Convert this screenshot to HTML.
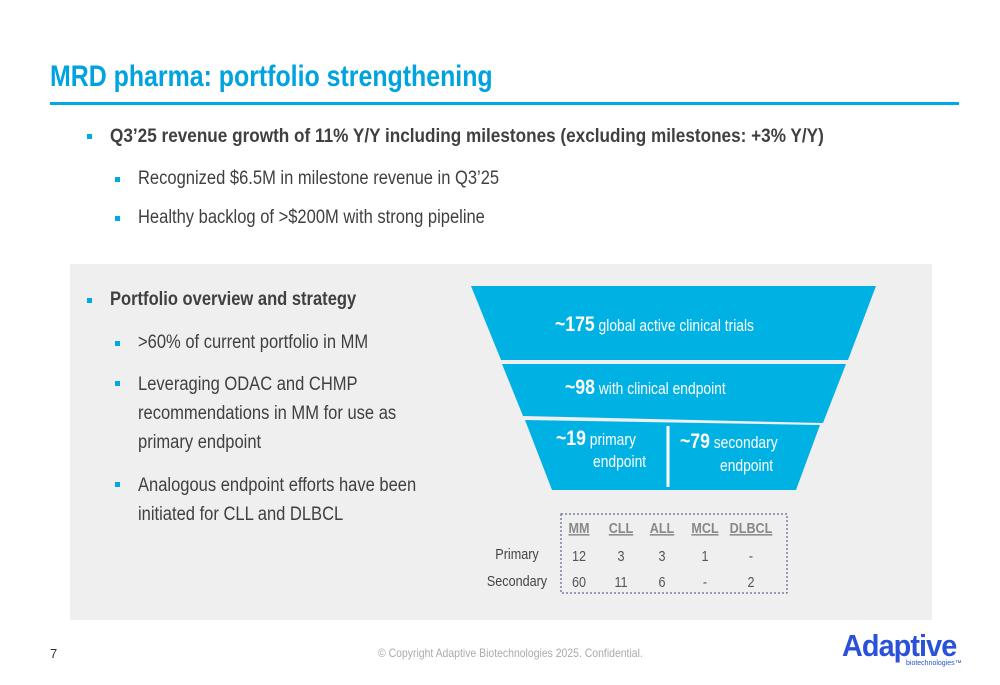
<!DOCTYPE html>
<html><head><meta charset="utf-8"><style>
body{margin:0;width:1000px;height:685px;background:#fff;position:relative;overflow:hidden;font-family:"Liberation Sans",sans-serif;color:#333}
.abs{position:absolute}
.t{font-size:20px;color:#404040;white-space:nowrap;transform:scaleX(.87);transform-origin:0 0}
.b{position:absolute;width:5px;height:5px;background:#00a9e0}
</style></head><body>
<div class="abs" style="left:50px;top:60px;font-size:30px;font-weight:bold;color:#00a3e0;white-space:nowrap;transform:scaleX(.83);transform-origin:0 0">MRD pharma: portfolio strengthening</div>
<div class="abs" style="left:50px;top:102px;width:909px;height:3px;background:#00a9e0"></div>

<div class="b" style="left:87px;top:134px"></div>
<div class="abs t" style="left:110px;top:125px;font-weight:bold;font-size:19.5px;transform:scaleX(.88)">Q3’25 revenue growth of 11% Y/Y including milestones (excluding milestones: +3% Y/Y)</div>
<div class="b" style="left:115px;top:177px"></div>
<div class="abs t" style="left:138px;top:168px;font-size:19px">Recognized $6.5M in milestone revenue in Q3’25</div>
<div class="b" style="left:115px;top:216px"></div>
<div class="abs t" style="left:138px;top:207px;font-size:19px">Healthy backlog of &gt;$200M with strong pipeline</div>

<div class="abs" style="left:70px;top:264px;width:862px;height:356px;background:#efefef"></div>
<div class="b" style="left:87px;top:298px"></div>
<div class="abs t" style="left:110px;top:289px;font-weight:bold;font-size:19px">Portfolio overview and strategy</div>
<div class="b" style="left:115px;top:341px"></div>
<div class="abs t" style="left:138px;top:332px;font-size:19px">&gt;60% of current portfolio in MM</div>
<div class="b" style="left:115px;top:381px"></div>
<div class="abs t" style="left:138px;top:370px;font-size:19px;line-height:29px">Leveraging ODAC and CHMP<br>recommendations in MM for use as<br>primary endpoint</div>
<div class="b" style="left:115px;top:482px"></div>
<div class="abs t" style="left:138px;top:471px;font-size:19px;line-height:29px">Analogous endpoint efforts have been<br>initiated for CLL and DLBCL</div>

<svg class="abs" style="left:0;top:0" width="1000" height="685">
<g fill="#00b2e3">
<polygon points="471,286 876,286 848,360 501,360"/>
<polygon points="502,364 846,364 823,423 523,416"/>
<polygon points="525,420 820,425 796,490 552,490"/>
</g>
<line x1="668" y1="426" x2="668" y2="487" stroke="#fff" stroke-width="3"/>
<g fill="#fff" font-family="Liberation Sans,sans-serif">
<text transform="translate(555,331) scale(.84,1)" font-size="16.5"><tspan font-weight="bold" font-size="21">~175</tspan> global active clinical trials</text>
<text transform="translate(565,394) scale(.84,1)" font-size="16.5"><tspan font-weight="bold" font-size="21">~98</tspan> with clinical endpoint</text>
<text transform="translate(556,445) scale(.84,1)" font-size="16.5"><tspan font-weight="bold" font-size="21">~19</tspan> primary</text>
<text transform="translate(593,467) scale(.84,1)" font-size="16.5">endpoint</text>
<text transform="translate(680,448) scale(.84,1)" font-size="16.5"><tspan font-weight="bold" font-size="21">~79</tspan> secondary</text>
<text transform="translate(720,471) scale(.84,1)" font-size="16.5">endpoint</text>
</g>
<rect x="561" y="514" width="226" height="79" fill="none" stroke="#3d4a7a" stroke-dasharray="2,2"/>
<g id="tbl" font-family="Liberation Sans,sans-serif" font-size="15" fill="#555" text-anchor="middle"></g>
</svg>

<div class="abs" style="left:50px;top:646px;font-size:13px;color:#333">7</div>
<div class="abs" style="left:378px;top:646px;font-size:12px;color:#aaa;white-space:nowrap;transform:scaleX(.87);transform-origin:0 0">© Copyright  Adaptive Biotechnologies 2025. Confidential.</div>
<div class="abs" style="left:842px;top:628px;font-family:'Liberation Sans',sans-serif;font-weight:bold;font-size:31px;color:#2a52d8;letter-spacing:-1px;transform:scaleX(.93);transform-origin:0 0">Adaptive</div>
<div class="abs" style="left:906px;top:660px;font-family:'Liberation Sans',sans-serif;font-size:7px;color:#2a52d8">biotechnologies™</div>

<script>
const indications=["MM","CLL","ALL","MCL","DLBCL"];
const rowLabels=["Primary","Secondary"];
const primaryCounts=["12","3","3","1","-"];
const secondaryCounts=["60","11","6","-","2"];
const g=document.getElementById('tbl');
const colX=[579,621,662,705,751];
function add(txt,x,y,attrs){const t=document.createElementNS('http://www.w3.org/2000/svg','text');t.textContent=txt;t.setAttribute('transform','translate('+x+','+y+') scale(.84,1)');for(const k in attrs)t.setAttribute(k,attrs[k]);g.appendChild(t);return t;}
indications.forEach((c,i)=>{const t=add(c,colX[i],533,{'font-weight':'bold','text-decoration':'underline',fill:'#888'});

});
rowLabels.forEach((r,j)=>{const t=add(r,517,559+j*27,{fill:'#444'});

});
[primaryCounts,secondaryCounts].forEach((row,j)=>row.forEach((v,i)=>{const t=add(v,colX[i],561+j*26,{});

}));
</script>
</body></html>
